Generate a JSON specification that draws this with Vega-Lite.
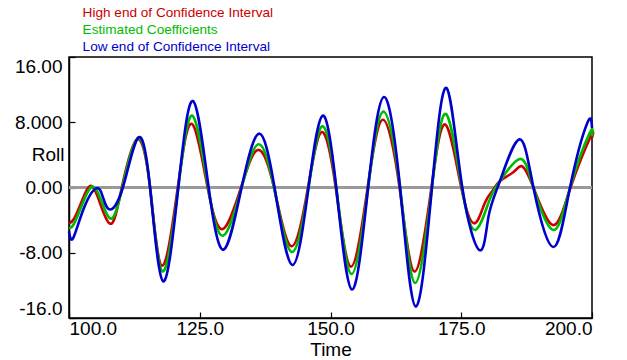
{
  "$schema": "https://vega.github.io/schema/vega-lite/v6.json",
  "width": 523,
  "height": 261,
  "autosize": {"type": "none"},
  "padding": {"left": 69, "top": 57, "right": 35, "bottom": 42},
  "background": "white",
  "config": {
    "view": {"stroke": "black", "strokeWidth": 1.5},
    "font": "Liberation Sans",
    "axis": {
      "grid": false,
      "domainColor": "black",
      "domainWidth": 1.5,
      "tickColor": "black",
      "tickWidth": 1.2,
      "tickSize": -6,
      "labelFont": "Liberation Sans",
      "labelFontSize": 19,
      "labelColor": "black",
      "titleFont": "Liberation Sans",
      "titleFontSize": 19,
      "titleFontWeight": "normal",
      "titleColor": "black"
    }
  },
  "data": {
    "values": [
      {"t": 100, "s": "high", "v": -4.4}, {"t": 101, "s": "high", "v": -3.8}, {"t": 102.5, "s": "high", "v": -1.6}, {"t": 104.3, "s": "high", "v": 0.2}, {"t": 106.2, "s": "high", "v": -2.4}, {"t": 108.2, "s": "high", "v": -4.4}, {"t": 110.1, "s": "high", "v": 0}, {"t": 113.0, "s": "high", "v": 5.9}, {"t": 115.5, "s": "high", "v": 0}, {"t": 117.8, "s": "high", "v": -9.6}, {"t": 120.8, "s": "high", "v": 0}, {"t": 123.5, "s": "high", "v": 7.8}, {"t": 126.5, "s": "high", "v": 0}, {"t": 129.4, "s": "high", "v": -5.1}, {"t": 132.9, "s": "high", "v": 0}, {"t": 136.1, "s": "high", "v": 4.6}, {"t": 139.2, "s": "high", "v": 0}, {"t": 142.5, "s": "high", "v": -7.2}, {"t": 145.7, "s": "high", "v": 0}, {"t": 148.3, "s": "high", "v": 6.8}, {"t": 151.0, "s": "high", "v": 0}, {"t": 153.9, "s": "high", "v": -9.7}, {"t": 157.1, "s": "high", "v": 0}, {"t": 160.0, "s": "high", "v": 8.3}, {"t": 163.2, "s": "high", "v": 0}, {"t": 166.1, "s": "high", "v": -10.3}, {"t": 169.3, "s": "high", "v": 0}, {"t": 172.0, "s": "high", "v": 7.7}, {"t": 175.0, "s": "high", "v": 0}, {"t": 177.5, "s": "high", "v": -4.4}, {"t": 179.5, "s": "high", "v": -1.9}, {"t": 181.1, "s": "high", "v": -0.3}, {"t": 182.4, "s": "high", "v": 0.8}, {"t": 185.0, "s": "high", "v": 1.9}, {"t": 186.6, "s": "high", "v": 2.6}, {"t": 188.8, "s": "high", "v": 0}, {"t": 192.5, "s": "high", "v": -4.6}, {"t": 195.9, "s": "high", "v": 0}, {"t": 199.7, "s": "high", "v": 6.2}, {"t": 200, "s": "high", "v": 6.1},

      {"t": 100, "s": "est", "v": -5.0}, {"t": 101, "s": "est", "v": -4.4}, {"t": 102.7, "s": "est", "v": -1.8}, {"t": 104.6, "s": "est", "v": 0.1}, {"t": 106.4, "s": "est", "v": -2.0}, {"t": 108.2, "s": "est", "v": -3.8}, {"t": 110.2, "s": "est", "v": 0}, {"t": 113.1, "s": "est", "v": 6.0}, {"t": 115.5, "s": "est", "v": 0}, {"t": 117.9, "s": "est", "v": -10.3}, {"t": 120.9, "s": "est", "v": 0}, {"t": 123.6, "s": "est", "v": 8.8}, {"t": 126.6, "s": "est", "v": 0}, {"t": 129.5, "s": "est", "v": -5.9}, {"t": 133.0, "s": "est", "v": 0}, {"t": 136.2, "s": "est", "v": 5.3}, {"t": 139.2, "s": "est", "v": 0}, {"t": 142.6, "s": "est", "v": -7.9}, {"t": 145.8, "s": "est", "v": 0}, {"t": 148.4, "s": "est", "v": 7.5}, {"t": 151.1, "s": "est", "v": 0}, {"t": 154.0, "s": "est", "v": -10.6}, {"t": 157.2, "s": "est", "v": 0}, {"t": 160.1, "s": "est", "v": 9.3}, {"t": 163.3, "s": "est", "v": 0}, {"t": 166.2, "s": "est", "v": -11.7}, {"t": 169.4, "s": "est", "v": 0}, {"t": 172.1, "s": "est", "v": 9.0}, {"t": 175.1, "s": "est", "v": 0}, {"t": 177.7, "s": "est", "v": -5.2}, {"t": 180.3, "s": "est", "v": -1.7}, {"t": 182.4, "s": "est", "v": 0.8}, {"t": 186.2, "s": "est", "v": 3.5}, {"t": 188.8, "s": "est", "v": 0}, {"t": 192.6, "s": "est", "v": -5.2}, {"t": 195.8, "s": "est", "v": 0}, {"t": 199.5, "s": "est", "v": 6.6}, {"t": 200, "s": "est", "v": 6.3},

      {"t": 100, "s": "low", "v": -5.4}, {"t": 100.8, "s": "low", "v": -6.2}, {"t": 102.8, "s": "low", "v": -2.6}, {"t": 105.2, "s": "low", "v": -0.1}, {"t": 106.5, "s": "low", "v": -1.2}, {"t": 107.8, "s": "low", "v": -2.7}, {"t": 110.3, "s": "low", "v": 0}, {"t": 113.2, "s": "low", "v": 6.1}, {"t": 115.5, "s": "low", "v": 0}, {"t": 118.0, "s": "low", "v": -11.5}, {"t": 120.9, "s": "low", "v": 0}, {"t": 123.7, "s": "low", "v": 10.6}, {"t": 126.7, "s": "low", "v": 0}, {"t": 129.6, "s": "low", "v": -7.6}, {"t": 133.0, "s": "low", "v": 0}, {"t": 136.3, "s": "low", "v": 6.6}, {"t": 139.3, "s": "low", "v": 0}, {"t": 142.7, "s": "low", "v": -9.5}, {"t": 145.8, "s": "low", "v": 0}, {"t": 148.5, "s": "low", "v": 8.8}, {"t": 151.1, "s": "low", "v": 0}, {"t": 154.1, "s": "low", "v": -12.5}, {"t": 157.2, "s": "low", "v": 0}, {"t": 160.2, "s": "low", "v": 11.1}, {"t": 163.3, "s": "low", "v": 0}, {"t": 166.3, "s": "low", "v": -14.6}, {"t": 169.4, "s": "low", "v": 0}, {"t": 172.2, "s": "low", "v": 12.2}, {"t": 175.2, "s": "low", "v": 0}, {"t": 178.6, "s": "low", "v": -7.7}, {"t": 180.2, "s": "low", "v": -3.6}, {"t": 182.4, "s": "low", "v": 0.8}, {"t": 186.1, "s": "low", "v": 5.9}, {"t": 188.8, "s": "low", "v": 0}, {"t": 192.6, "s": "low", "v": -7.3}, {"t": 195.8, "s": "low", "v": 0}, {"t": 199.1, "s": "low", "v": 7.9}, {"t": 200, "s": "low", "v": 7.3}
    ]
  },
  "layer": [
    {
      "mark": {"type": "rule", "color": "#999999", "strokeWidth": 2},
      "encoding": {"y": {"datum": 0}}
    },
    {
      "mark": {"type": "line", "interpolate": "natural", "strokeWidth": 2.6},
      "encoding": {
        "x": {
          "field": "t", "type": "quantitative",
          "scale": {"domain": [100, 200], "nice": false, "zero": false},
          "axis": {"values": [100, 125, 150, 175, 200], "format": ".1f", "title": "Time", "labelPadding": 7, "titleBaseline": "alphabetic", "titleY": 37}
        },
        "y": {
          "field": "v", "type": "quantitative",
          "scale": {"domain": [-16, 16], "nice": false},
          "axis": {
            "values": [-16, -8, 0, 8, 16],
            "labelExpr": "datum.value == 16 ? '16.00' : datum.value == 8 ? '8.000' : datum.value == 0 ? '0.00' : datum.value == -8 ? '-8.00' : '-16.0'",
            "labelFlush": true,
            "labelPadding": 13,
            "title": "Roll",
            "titleAngle": 0,
            "titleAlign": "right",
            "titleBaseline": "alphabetic",
            "titleX": -5,
            "titleY": 103
          }
        },
        "color": {
          "field": "s", "type": "nominal",
          "scale": {"domain": ["high", "est", "low"], "range": ["#cc0000", "#00bb00", "#0000cc"]},
          "legend": {
            "orient": "none",
            "legendX": 0,
            "legendY": -51,
            "title": null,
            "symbolSize": 0,
            "symbolStrokeWidth": 0,
            "symbolOpacity": 0,
            "labelOffset": 0,
            "rowPadding": 2,
            "labelFont": "Liberation Sans",
            "labelFontSize": 13.6,
            "labelLimit": 400,
            "labelExpr": "datum.value == 'high' ? 'High end of Confidence Interval' : datum.value == 'est' ? 'Estimated Coefficients' : 'Low end of Confidence Interval'",
            "encode": {"labels": {"update": {"fill": {"scale": "color", "field": "value"}}}}
          }
        }
      }
    }
  ]
}
